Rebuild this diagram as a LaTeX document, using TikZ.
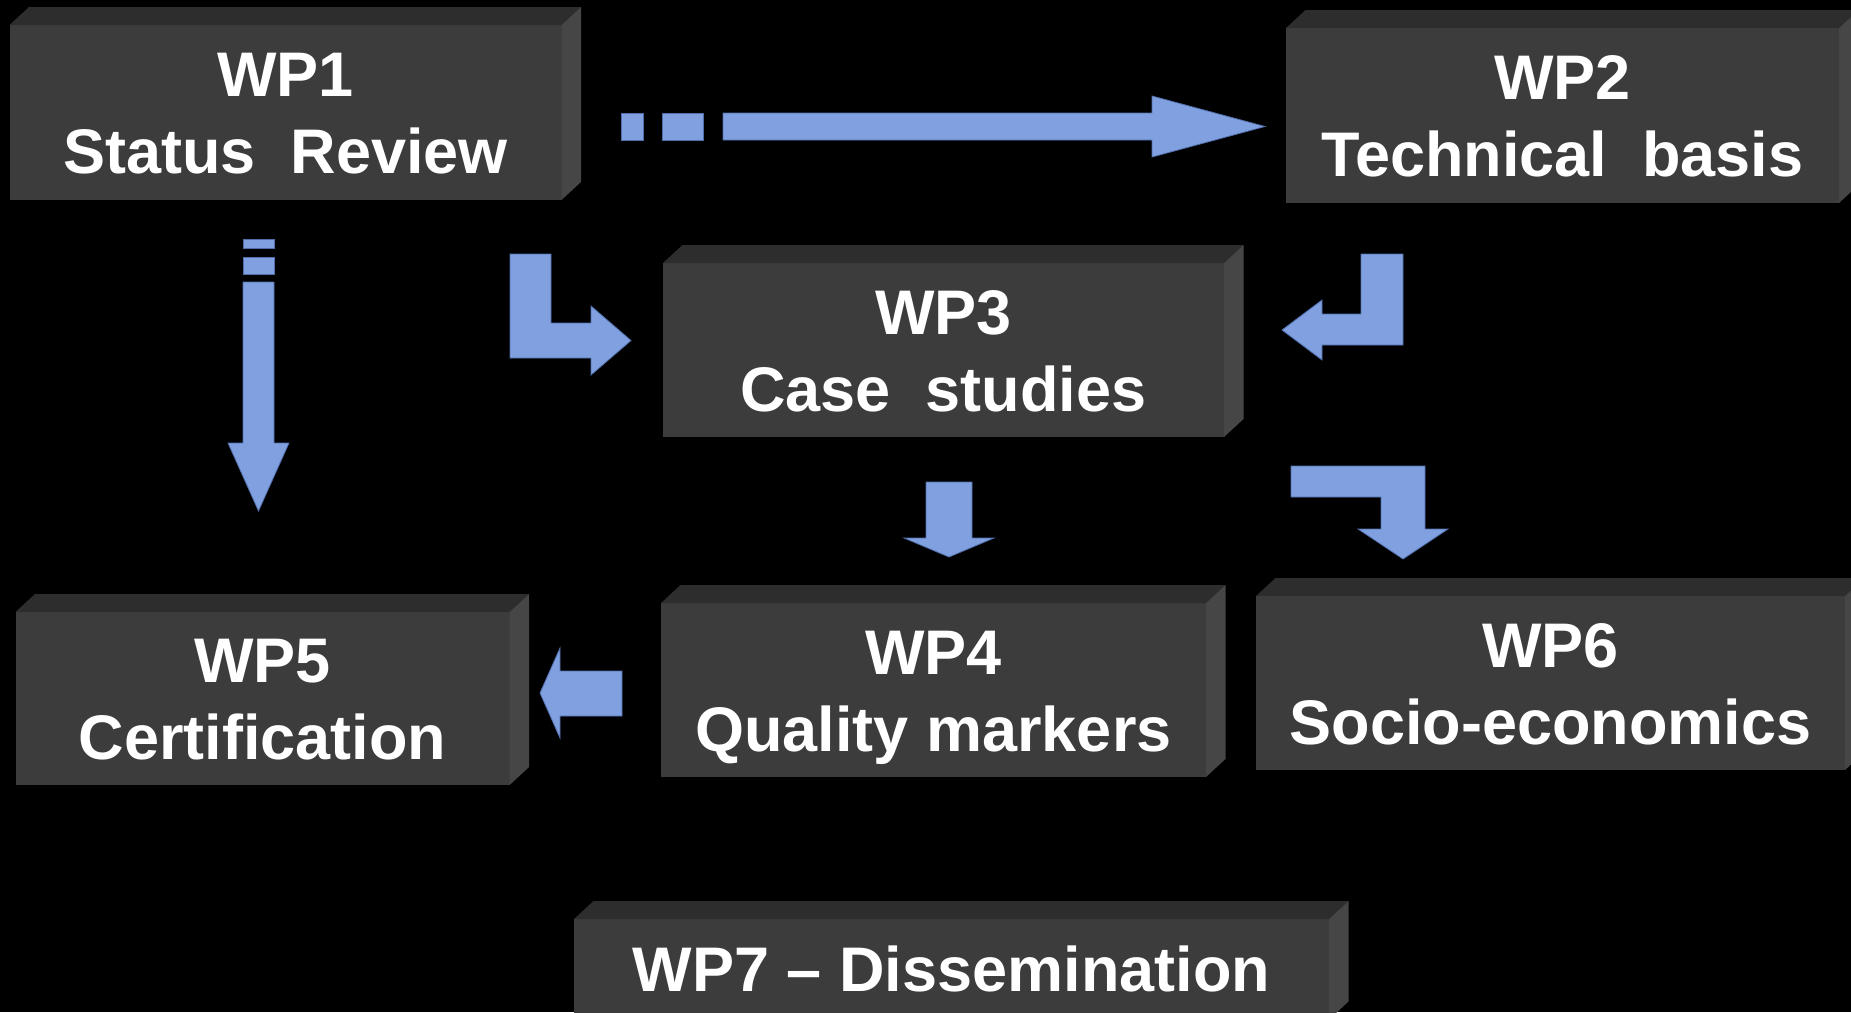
\documentclass[tikz,border=0pt]{standalone}
\usepackage{fontspec}
\setmainfont{Liberation Sans}
\definecolor{frontc}{RGB}{60,60,60}
\definecolor{topc}{RGB}{45,45,45}
\definecolor{sidec}{RGB}{70,70,70}
\definecolor{arrowc}{RGB}{128,160,224}
\definecolor{arrowline}{RGB}{80,110,170}
\newcommand\wpbox[6]{%
  \pgfmathsetmacro\wpboxw{#4-#2}\pgfmathsetmacro\wpboxh{#5-#3}%
  \node[face, minimum width=\wpboxw pt, minimum height=\wpboxh pt] (#1) at (#2,#3) {};
  \fill[topface] (#1.north west) -- ++(19.5,-18) -- ([shift={(19.5,-18)}]#1.north east) -- (#1.north east) -- cycle;
  \fill[sideface] (#1.north east) -- ++(19.5,-18) -- ([shift={(19.5,-18)}]#1.south east) -- (#1.south east) -- cycle;
  \node[wptext] (#1t) at (#1.center) {#6};
}
\begin{document}
\begin{tikzpicture}[x=1pt,y=-1pt,
  face/.style={fill=frontc, draw=none, inner sep=0pt, outer sep=0pt, anchor=north west},
  topface/.style={fill=topc},
  sideface/.style={fill=sidec},
  wptext/.style={text=white, font=\bfseries\fontsize{63}{77}\selectfont, align=center, inner sep=0pt},
  blockarrow/.style={fill=arrowc, draw=arrowline, line width=0.8pt, line join=miter}]
\useasboundingbox (0,0) rectangle (1851,1012);
\clip (0,0) rectangle (1851,1012);
\fill[black] (0,0) rectangle (1851,1012);

\wpbox{wp1}{9.5}{25}{561.5}{200}{\rule{0pt}{45.5pt}WP1\\\smash{Status\ \ Review}}
\wpbox{wp2}{1286}{28}{1839}{203}{\rule{0pt}{45.5pt}WP2\\\smash{Technical\ \ basis}}
\wpbox{wp3}{663}{263}{1224}{437}{\rule{0pt}{45.5pt}WP3\\\smash{Case\ \ studies}}
\wpbox{wp4}{661}{603}{1206}{777}{\rule{0pt}{45.5pt}WP4\\\smash{Quality markers}}
\wpbox{wp5}{15.5}{612}{509.6}{785}{\rule{0pt}{45.5pt}WP5\\\smash{Certification}}
\wpbox{wp6}{1256}{596}{1845}{770}{\rule{0pt}{45.5pt}WP6\\\smash{Socio-economics}}
\wpbox{wp7}{574}{919}{1329}{1019.5}{\rule{0pt}{45.5pt}WP7 – Dissemination}

% WP1 -> WP2
\path[blockarrow] (621,113) rectangle (643,140);
\path[blockarrow] (662,113) rectangle (703,140);
\path[blockarrow] (723,113) -- (1152,113) -- (1152,96) -- (1265,126.5) -- (1152,157) -- (1152,140) -- (723,140) -- cycle;
% WP1 -> WP5
\path[blockarrow] (243,239) rectangle (274,248);
\path[blockarrow] (243,257) rectangle (274,274);
\path[blockarrow] (243,282) -- (274,282) -- (274,443) -- (289,443) -- (258.5,511) -- (228,443) -- (243,443) -- cycle;
% WP1 -> WP3
\path[blockarrow] (510,254) -- (551,254) -- (551,323) -- (591,323) -- (591,306) -- (631,340.5) -- (591,375) -- (591,358) -- (510,358) -- cycle;
% WP2 -> WP3
\path[blockarrow] (1403,254) -- (1361,254) -- (1361,314) -- (1322,314) -- (1322,300) -- (1282,330) -- (1322,360) -- (1322,345) -- (1403,345) -- cycle;
% WP3 -> WP4
\path[blockarrow] (926,482) -- (972,482) -- (972,538) -- (994,538) -- (949,557) -- (904,538) -- (926,538) -- cycle;
% WP3 -> WP6
\path[blockarrow] (1291,466) -- (1425,466) -- (1425,529) -- (1448,529) -- (1403,559) -- (1358,529) -- (1381,529) -- (1381,497) -- (1291,497) -- cycle;
% WP4 -> WP5
\path[blockarrow] (622,671) -- (622,716) -- (560,716) -- (560,738) -- (540,693) -- (560,648) -- (560,671) -- cycle;
\end{tikzpicture}
\end{document}
